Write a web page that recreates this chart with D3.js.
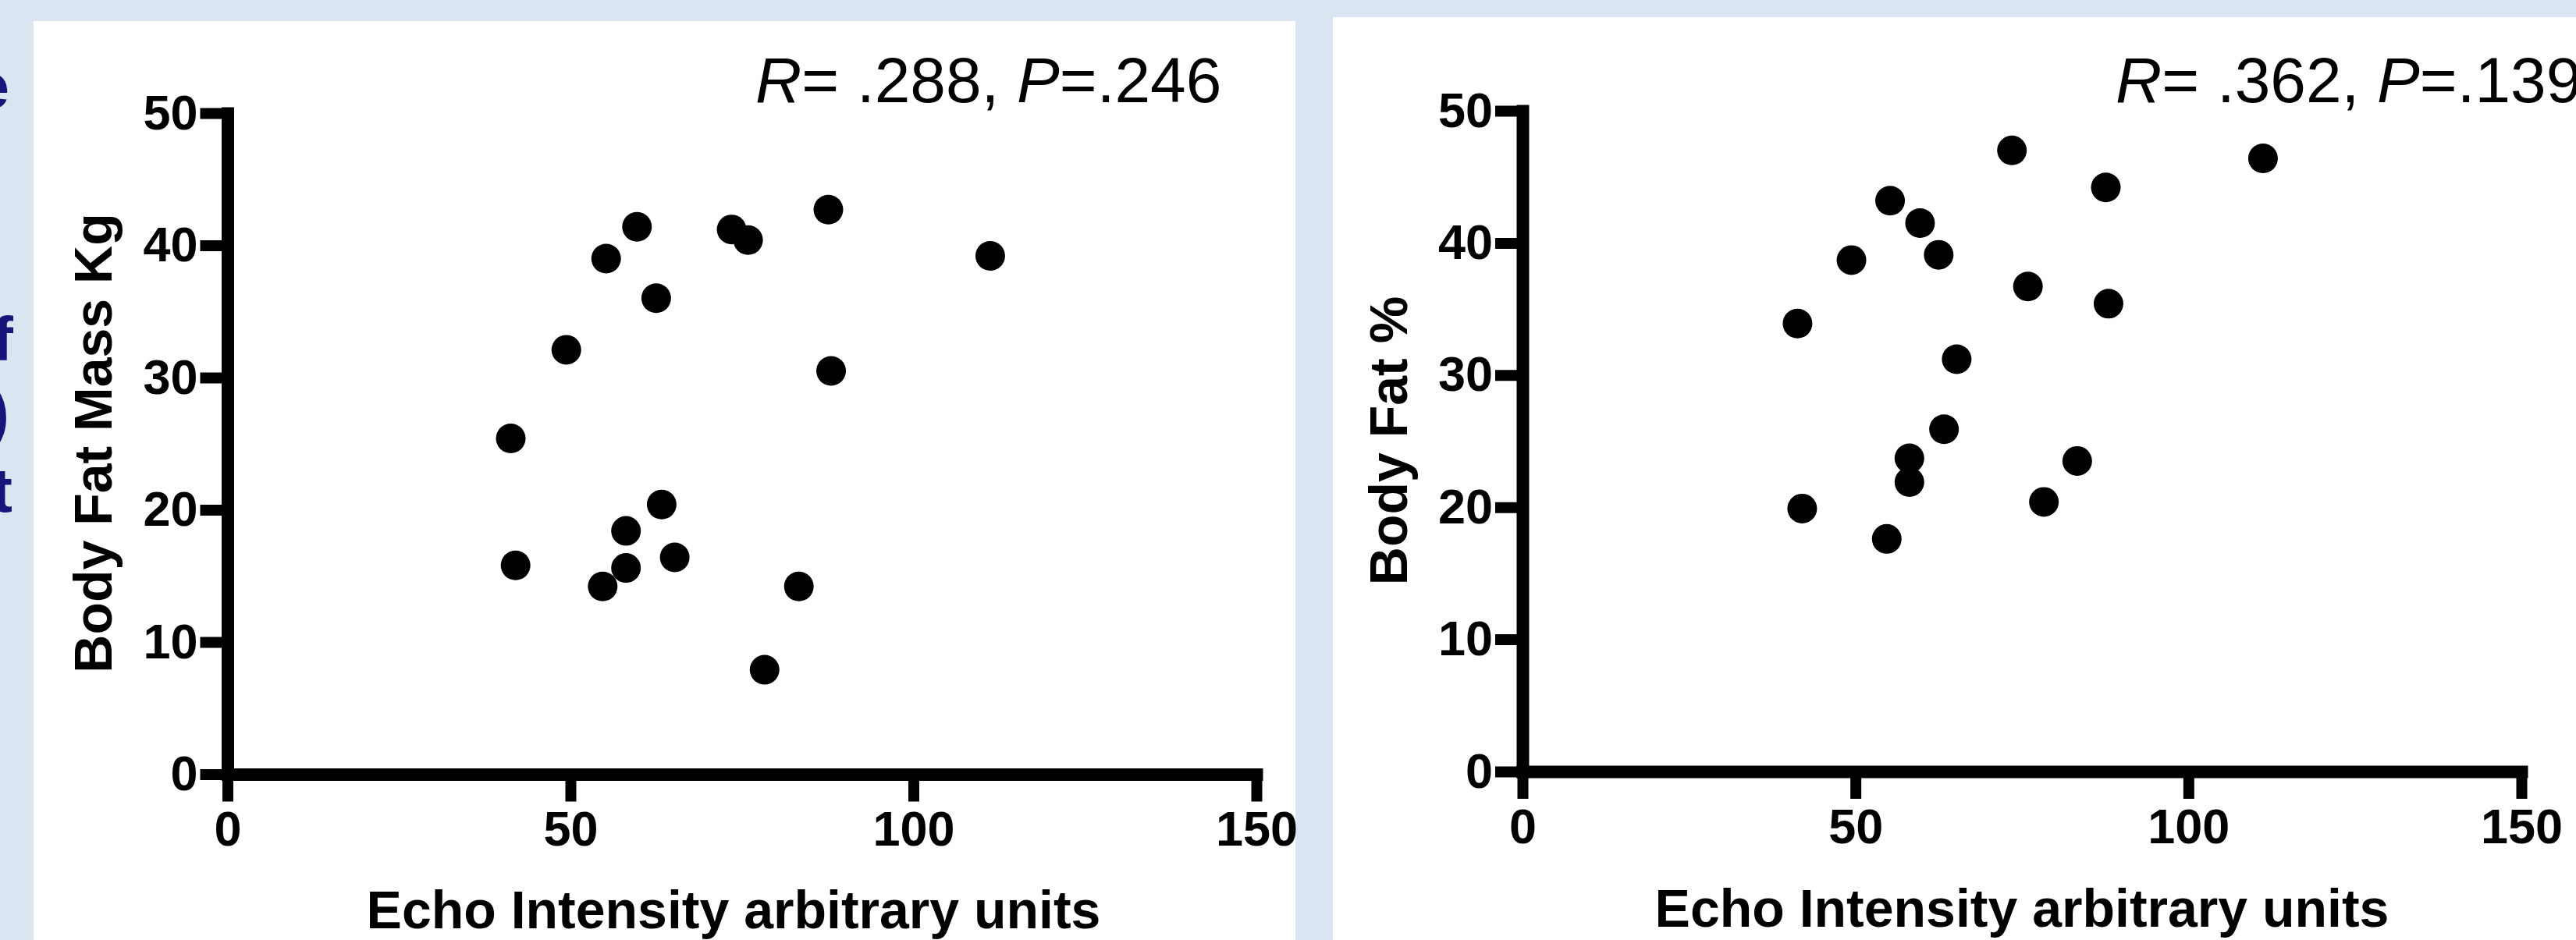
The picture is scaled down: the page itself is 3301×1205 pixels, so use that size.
<!DOCTYPE html>
<html>
<head>
<meta charset="utf-8">
<script src="https://cdn.jsdelivr.net/npm/d3@7"></script>
<style>
  body { margin: 0; background: #dbe5f1; }
  svg { display: block; }
</style>
</head>
<body>
<div id="chart"></div>
<script>
// echo intensity (shared x values for both panels)
var echo = [41.3, 42.0, 49.4, 55.2, 54.7, 59.7, 58.1, 58.1, 62.5, 63.3, 65.2, 73.5, 75.9, 78.3, 83.3, 87.6, 88.0, 111.2];
// body fat mass, kg
var fatMass = [25.4, 15.8, 32.1, 39.0, 14.2, 41.4, 18.4, 15.6, 36.0, 20.4, 16.4, 41.2, 40.4, 7.9, 14.2, 42.7, 30.5, 39.2];
// body fat, %
var fatPct = [33.9, 19.9, 38.7, 43.2, 17.6, 41.5, 23.7, 21.9, 39.1, 25.9, 31.2, 47.0, 36.7, 20.4, 23.5, 44.2, 35.4, 46.4];

var xTicks = [0, 50, 100, 150];
var yTicks = [0, 10, 20, 30, 40, 50];
var xTitle = "Echo Intensity arbitrary units";
var yTitles = ["Body Fat Mass Kg", "Body Fat %"];
var rValues = [".288", ".362"];
var pValues = [".246", ".139"];
// cut-off slide text at the far left edge
var edgeText = ["e", "f", ")", "t"];

var width = 3301,
    height = 1205,
    font = "'Liberation Sans', Arial, Helvetica, sans-serif";

var svg = d3.select("#chart").append("svg")
    .attr("width", width)
    .attr("height", height);

svg.append("rect")
    .attr("width", width)
    .attr("height", height)
    .attr("fill", "#dbe5f1");

// white panels
svg.append("rect").attr("x", 43).attr("y", 27).attr("width", 1617).attr("height", height - 27).attr("fill", "#fff");
svg.append("rect").attr("x", 1708).attr("y", 22).attr("width", width - 1708).attr("height", height - 22).attr("fill", "#fff");

var edgePos = [[12, 138], [17, 462], [12, 556], [16, 656]];
svg.selectAll(".edge")
    .data(edgeText)
    .enter().append("text")
    .attr("class", "edge")
    .attr("x", function(d, i) { return edgePos[i][0]; })
    .attr("y", function(d, i) { return edgePos[i][1]; })
    .attr("text-anchor", "end")
    .attr("font-family", font)
    .attr("font-weight", "bold")
    .attr("font-size", 80)
    .attr("fill", "#16167a")
    .text(function(d) { return d; });

var panels = [
    {values: fatMass, x0: 291.5, x1: 1610, y0: 992.5, y1: 145, titleX: 143, titleY: 568, xTitleX: 940, xTitleY: 1190, noteX: 968},
    {values: fatPct, x0: 1951, x1: 3231, y0: 989, y1: 142, titleX: 1803, titleY: 565, xTitleX: 2591, xTitleY: 1188, noteX: 2711}
];

panels.forEach(function(p, k) {
    var x = d3.scaleLinear().domain([0, 150]).range([p.x0, p.x1]);
    var y = d3.scaleLinear().domain([0, 50]).range([p.y0, p.y1]);

    var g = svg.append("g");

    var xAxis = g.append("g")
        .attr("transform", "translate(0," + p.y0 + ")")
        .call(d3.axisBottom(x).tickValues(xTicks).tickFormat(d3.format("d"))
            .tickSize(35).tickSizeOuter(0).tickPadding(12));

    var yAxis = g.append("g")
        .attr("transform", "translate(" + p.x0 + ",0)")
        .call(d3.axisLeft(y).tickValues(yTicks).tickFormat(d3.format("d"))
            .tickSize(35).tickSizeOuter(0).tickPadding(3));

    [xAxis, yAxis].forEach(function(a) {
        a.attr("font-family", font).attr("font-size", 63);
        a.select(".domain").attr("stroke", "#000").attr("stroke-width", 16).attr("stroke-linecap", "square");
        a.selectAll(".tick line").attr("stroke", "#000").attr("stroke-width", 14);
        a.selectAll(".tick text").attr("fill", "#000").attr("font-weight", "bold");
    });

    g.selectAll(".dot")
        .data(echo)
        .enter().append("circle")
        .attr("class", "dot")
        .attr("cx", function(d) { return x(d); })
        .attr("cy", function(d, i) { return y(p.values[i]); })
        .attr("r", 19)
        .attr("fill", "#000");

    g.append("text")
        .attr("transform", "translate(" + p.titleX + "," + p.titleY + ") rotate(-90)")
        .attr("text-anchor", "middle")
        .attr("font-family", font)
        .attr("font-weight", "bold")
        .attr("font-size", 68)
        .text(yTitles[k]);

    g.append("text")
        .attr("x", p.xTitleX)
        .attr("y", p.xTitleY)
        .attr("text-anchor", "middle")
        .attr("font-family", font)
        .attr("font-weight", "bold")
        .attr("font-size", 68)
        .text(xTitle);

    var note = g.append("text")
        .attr("x", p.noteX)
        .attr("y", 131)
        .attr("font-family", font)
        .attr("font-size", 82);
    note.append("tspan").attr("font-style", "italic").text("R");
    note.append("tspan").text("= " + rValues[k] + ", ");
    note.append("tspan").attr("font-style", "italic").text("P");
    note.append("tspan").text("=" + pValues[k]);
});
</script>
</body>
</html>
